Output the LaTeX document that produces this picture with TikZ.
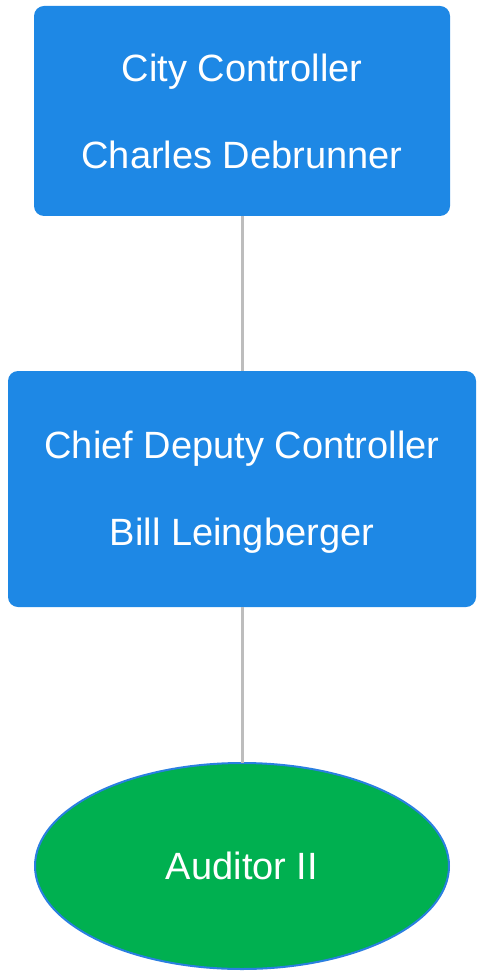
\documentclass[tikz,border=0pt]{standalone}
\usepackage{fontspec}
\setmainfont{Liberation Sans}
\usetikzlibrary{shapes.geometric}
\definecolor{boxblue}{RGB}{30,136,229}
\definecolor{okgreen}{RGB}{0,176,80}
\definecolor{edgeblue}{RGB}{42,127,224}
\definecolor{linkgray}{RGB}{189,189,189}
\tikzset{
  rolebox/.style={rectangle, rounded corners=10pt, fill=boxblue, draw=none, inner sep=0pt, outer sep=0pt},
  roletext/.style={text=white, inner sep=0pt, font=\fontsize{38pt}{46pt}\selectfont, text height=27pt, text depth=0pt},
  roleoval/.style={ellipse, fill=okgreen, draw=edgeblue, line width=2pt, inner sep=0pt, outer sep=0pt,
    minimum width=414pt, minimum height=206pt},
  link/.style={draw=linkgray, line width=3pt}
}
\begin{document}
\begin{tikzpicture}[x=1pt,y=1pt]
\useasboundingbox (0,0) rectangle (478,-973);
\node[rolebox, minimum width=416pt, minimum height=210pt] (cc) at (242,-111) {};
\node[roletext] (cct1) at (242,-68) {City Controller};
\node[roletext] (cct2) at (242,-155) {Charles Debrunner};
\node[rolebox, minimum width=468pt, minimum height=236pt] (cdc) at (242,-489) {};
\node[roletext] (cdct1) at (242,-445) {Chief Deputy Controller};
\node[roletext] (cdct2) at (242,-532) {Bill Leingberger};
\node[roleoval] (aud) at (242,-866) {};
\node[roletext] (audt) at (242,-866) {Auditor II};
\draw[link] (cc.south) -- (cdc.north);
\draw[link] (cdc.south) -- (aud.north);
\end{tikzpicture}
\end{document}
